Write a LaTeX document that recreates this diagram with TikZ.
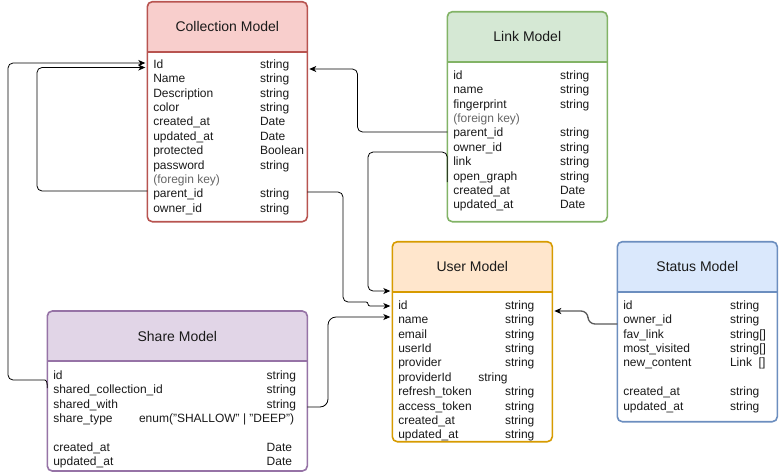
\documentclass[tikz,border=0pt]{standalone}
\usepackage{fontspec}
\setmainfont{Liberation Sans}
\usetikzlibrary{arrows.meta}
\definecolor{redF}{HTML}{F8CECC}\definecolor{redS}{HTML}{B85450}
\definecolor{greenF}{HTML}{D5E8D4}\definecolor{greenS}{HTML}{82B366}
\definecolor{orangeF}{HTML}{FFE6CC}\definecolor{orangeS}{HTML}{D79B00}
\definecolor{blueF}{HTML}{DAE8FC}\definecolor{blueS}{HTML}{6C8EBF}
\definecolor{purpleF}{HTML}{E1D5E7}\definecolor{purpleS}{HTML}{9673A6}
\definecolor{notegray}{HTML}{666666}
\definecolor{textdark}{HTML}{1A1A1A}
\definecolor{linegray}{HTML}{5A5A5A}
\tikzset{
  boxshape/.style={rectangle, anchor=north west, inner sep=0pt, outer sep=0pt, fill=white, rounded corners=5pt},
  titletext/.style={inner sep=0pt, font=\fontsize{14}{16.8}\selectfont, text=textdark},
  fld/.style={anchor=base west, inner sep=0pt, outer sep=0pt, font=\fontsize{12}{14.4}\selectfont, text=textdark, text height=9pt, text depth=0.4pt},
  notefld/.style={fld, text=notegray},
  conn/.style={draw=black, line width=0.8pt, rounded corners=5pt, shorten >=2pt, -{Stealth[length=7pt,width=6pt,inset=2pt]}},
}
\newcommand\umlbox[9]{%
  \node[boxshape, minimum width=#4pt, minimum height=#5pt] (#1) at (#2,#3) {};
  \begin{scope}
    \clip[rounded corners=5pt] (#1.north west) rectangle (#1.south east);
    \fill[#7] (#1.north west) rectangle ([yshift=-#6pt]#1.north east);
  \end{scope}
  \draw[#8, line width=1.6pt] ([yshift=-#6pt]#1.north west) -- ([yshift=-#6pt]#1.north east);
  \draw[#8, line width=1.6pt, rounded corners=5pt] (#1.north west) rectangle (#1.south east);
  \node[titletext] (#1-title) at ([yshift=-#6pt/2]#1.north) {#9};
}
\begin{document}
\begin{tikzpicture}[x=1pt,y=-1pt]
\useasboundingbox[fill=white] (0,0) rectangle (779,472);

% ---------- boxes ----------
\umlbox{coll}{147.3}{1.7}{160}{220}{50}{redF}{redS}{Collection Model}
\umlbox{link}{447.3}{11.7}{160}{210}{50}{greenF}{greenS}{Link Model}
\umlbox{user}{392.3}{241.7}{160}{200}{50}{orangeF}{orangeS}{User Model}
\umlbox{status}{617.3}{241.7}{160}{180}{50}{blueF}{blueS}{Status Model}
\umlbox{share}{47.3}{311}{260}{160}{50}{purpleF}{purpleS}{Share Model}

% ---------- Collection fields ----------
\foreach \i/\n/\t in {0/Id/string, 1/Name/string, 2/Description/string, 3/color/string,
  4/created\_at/Date, 5/updated\_at/Date, 6/protected/Boolean, 7/password/string,
  9/parent\_id/string, 10/owner\_id/string}{
  \node[fld] (c-n\i) at (153.3,{68.3+14.4*\i}) {\n};
  \node[fld] (c-t\i) at (260,{68.3+14.4*\i}) {\t};
}
\node[notefld] (c-n8) at (153.3,{68.3+14.4*8}) {(foregin key)};

% ---------- Link fields ----------
\foreach \i/\n/\t in {0/id/string, 1/name/string, 2/fingerprint/string,
  4/parent\_id/string, 5/owner\_id/string, 6/link/string, 7/open\_graph/string,
  8/created\_at/Date, 9/updated\_at/Date}{
  \node[fld] (l-n\i) at (453.3,{79.3+14.4*\i}) {\n};
  \node[fld] (l-t\i) at (560,{79.3+14.4*\i}) {\t};
}
\node[notefld] (l-n3) at (453.3,{79.3+14.4*3}) {(foreign key)};

% ---------- User fields ----------
\foreach \i/\n in {0/id, 1/name, 2/email, 3/userId, 4/provider,
  6/refresh\_token, 7/access\_token, 8/created\_at, 9/updated\_at}{
  \node[fld] (u-n\i) at (398.3,{309.3+14.4*\i}) {\n};
  \node[fld] (u-t\i) at (505,{309.3+14.4*\i}) {string};
}
\node[fld] (u-n5) at (398.3,{309.3+14.4*5}) {providerId};
\node[fld] (u-t5) at (478.3,{309.3+14.4*5}) {string};

% ---------- Status fields ----------
\foreach \i/\n/\t in {0/id/string, 1/owner\_id/string, 2/fav\_link/string[],
  3/most\_visited/string[], 6/created\_at/string, 7/updated\_at/string}{
  \node[fld] (s-n\i) at (623.3,{309.3+14.4*\i}) {\n};
  \node[fld] (s-t\i) at (730,{309.3+14.4*\i}) {\t};
}
\node[fld] (s-n4) at (623.3,{309.3+14.4*4}) {new\_content};
\node[fld] (s-t4) at (730,{309.3+14.4*4}) {Link\ \ []};

% ---------- Share fields ----------
\foreach \i/\n/\t in {0/id/string, 1/shared\_collection\_id/string, 2/shared\_with/string,
  5/created\_at/Date, 6/updated\_at/Date}{
  \node[fld] (h-n\i) at (53.3,{379.3+14.4*\i}) {\n};
  \node[fld] (h-t\i) at (266.7,{379.3+14.4*\i}) {\t};
}
\node[fld] (h-n3) at (53.3,{379.3+14.4*3}) {share\_type};
\node[fld] (h-t3) at (139,{379.3+14.4*3}) {enum("SHALLOW" | "DEEP")};

% ---------- connectors ----------
% Link.parent_id -> Collection
\draw[conn] (link.west |- 0,132) -- (357.5,132) -- (357.5,69) -- (coll.east |- 0,69);
% Collection.parent_id -> Collection.Id (self loop)
\draw[conn] (coll.west |- 0,191) -- (37,191) -- (37,67.5) -- (coll.west |- 0,67.5);
% Share.shared_collection_id -> Collection.Id
\draw[conn] (share.west |- 0,388) .. controls (47.3,381) and (46,380) .. (40,380) -- (8,380) -- (8,63) -- (coll.west |- 0,63);
% Collection.owner_id -> User.id
\draw[conn] (coll.east |- 0,192) -- (343,192) -- (343,302) [rounded corners=2pt] -- (368,302) -- (368,306) -- (user.west |- 0,306);
% Link.owner_id -> User
\draw[conn] (link.west |- 0,182) -- (link.west |- 0,152) -- (368,152) -- (368,291) -- (user.west |- 0,291);
% Share.shared_with -> User
\draw[conn, rounded corners=8pt] (share.east |- 0,407) -- (328,407) -- (328,317) -- (user.west |- 0,317);
% Status.owner_id -> User
\draw[conn, draw=linegray, line width=1.3pt, rounded corners=7pt, -{Stealth[length=7pt,width=6pt,inset=2pt,color=black]}] (status.west |- 0,324) -- (588,324) -- (588,311) -- (user.east |- 0,311);
\end{tikzpicture}
\end{document}
